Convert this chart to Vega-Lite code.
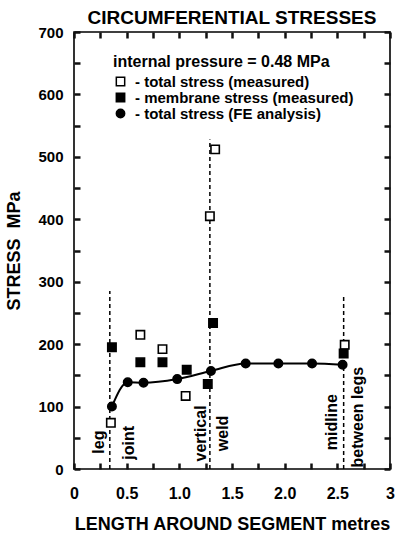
{
  "$schema": "https://vega.github.io/schema/vega-lite/v6.json",
  "autosize": "none",
  "width": 316,
  "height": 437,
  "padding": {"left": 74, "top": 32, "right": 5, "bottom": 72},
  "background": "white",
  "title": {"text": "CIRCUMFERENTIAL STRESSES", "fontSize": 19, "font": "Liberation Sans", "fontWeight": "bold", "color": "black", "offset": -3},
  "config": {
    "view": {"stroke": "black", "strokeWidth": 1.6},
    "font": "Liberation Sans",
    "axis": {"grid": false, "labelFont": "Liberation Sans", "labelFontWeight": "bold", "labelFontSize": 15, "labelColor": "black", "titleFont": "Liberation Sans", "titleFontWeight": "bold", "titleFontSize": 18, "titleColor": "black"}
  },
  "datasets": {
    "pts": [
      {"x": 0.35, "y": 74, "series": "- total stress (measured)"},
      {"x": 0.63, "y": 215, "series": "- total stress (measured)"},
      {"x": 0.84, "y": 192, "series": "- total stress (measured)"},
      {"x": 1.06, "y": 117, "series": "- total stress (measured)"},
      {"x": 1.29, "y": 405, "series": "- total stress (measured)"},
      {"x": 1.34, "y": 512, "series": "- total stress (measured)"},
      {"x": 2.57, "y": 199, "series": "- total stress (measured)"},
      {"x": 0.36, "y": 195, "series": " - membrane stress (measured)"},
      {"x": 0.63, "y": 171, "series": " - membrane stress (measured)"},
      {"x": 0.84, "y": 171, "series": " - membrane stress (measured)"},
      {"x": 1.07, "y": 159, "series": " - membrane stress (measured)"},
      {"x": 1.27, "y": 136, "series": " - membrane stress (measured)"},
      {"x": 1.32, "y": 234, "series": " - membrane stress (measured)"},
      {"x": 2.56, "y": 185, "series": " - membrane stress (measured)"},
      {"x": 0.36, "y": 100, "series": "- total stress (FE analysis)"},
      {"x": 0.51, "y": 139, "series": "- total stress (FE analysis)"},
      {"x": 0.66, "y": 138, "series": "- total stress (FE analysis)"},
      {"x": 0.98, "y": 144, "series": "- total stress (FE analysis)"},
      {"x": 1.30, "y": 157, "series": "- total stress (FE analysis)"},
      {"x": 1.63, "y": 169, "series": "- total stress (FE analysis)"},
      {"x": 1.94, "y": 169, "series": "- total stress (FE analysis)"},
      {"x": 2.26, "y": 169, "series": "- total stress (FE analysis)"},
      {"x": 2.55, "y": 167, "series": "- total stress (FE analysis)"}
    ],
    "rules": [
      {"x": 0.34, "y": 0, "y2": 285},
      {"x": 1.29, "y": 0, "y2": 528},
      {"x": 2.56, "y": 0, "y2": 276}
    ],
    "labels": [
      {"x": 0.24, "y": 43, "label": "leg"},
      {"x": 0.52, "y": 42, "label": "joint"},
      {"x": 1.21, "y": 57, "label": "vertical"},
      {"x": 1.41, "y": 57, "label": "weld"},
      {"x": 2.445, "y": 75, "label": "midline"},
      {"x": 2.70, "y": 83, "label": "between legs"}
    ]
  },
  "resolve": {"axis": {"x": "independent", "y": "independent"}},
  "layer": [
    {
      "data": {"name": "rules"},
      "mark": {"type": "rule", "color": "black", "strokeWidth": 1.5, "strokeDash": [4, 3]},
      "encoding": {
        "x": {"field": "x", "type": "quantitative", "scale": {"domain": [0, 3], "nice": false, "zero": false},
          "axis": {"orient": "bottom", "offset": -6, "tickSize": 6, "tickWidth": 2.5, "tickColor": "#111111", "domain": false, "values": [0, 0.25, 0.5, 0.75, 1, 1.25, 1.5, 1.75, 2, 2.25, 2.5, 2.75, 3], "labelExpr": "datum.value == 0 ? '0' : datum.value == 3 ? '3' : (datum.value * 2) % 1 == 0 ? format(datum.value, '.1f') : ''", "labelPadding": 16, "labelFontSize": 16, "title": "LENGTH AROUND SEGMENT metres", "titlePadding": 14, "labelFlush": false}},
        "y": {"field": "y", "type": "quantitative", "scale": {"domain": [0, 700], "nice": false},
          "axis": {"orient": "left", "offset": -6, "tickSize": 6, "tickWidth": 2.5, "tickColor": "#111111", "domain": false, "values": [0, 50, 100, 150, 200, 250, 300, 350, 400, 450, 500, 550, 600, 650, 700], "labelExpr": "datum.value % 100 == 0 ? datum.label : ''", "labelPadding": 11, "title": "STRESS\u00a0\u00a0MPa", "titlePadding": 14, "labelFlush": false}},
        "y2": {"field": "y2"}
      }
    },
    {
      "data": {"name": "pts"},
      "transform": [{"filter": "datum.series == '- total stress (FE analysis)'"}],
      "mark": {"type": "line", "color": "black", "strokeWidth": 2, "interpolate": "monotone"},
      "encoding": {
        "x": {"field": "x", "type": "quantitative", "axis": {"orient": "top", "offset": -6, "tickSize": 6, "tickWidth": 2.5, "tickColor": "#111111", "domain": false, "values": [0, 0.25, 0.5, 0.75, 1, 1.25, 1.5, 1.75, 2, 2.25, 2.5, 2.75, 3], "labels": false, "title": null}},
        "y": {"field": "y", "type": "quantitative", "axis": {"orient": "right", "offset": -6, "tickSize": 6, "tickWidth": 2.5, "tickColor": "#111111", "domain": false, "values": [0, 50, 100, 150, 200, 250, 300, 350, 400, 450, 500, 550, 600, 650, 700], "labels": false, "title": null}}
      }
    },
    {
      "data": {"name": "pts"},
      "mark": {"type": "point", "filled": true, "stroke": "black", "strokeWidth": 1.6, "opacity": 1, "size": 70},
      "encoding": {
        "x": {"field": "x", "type": "quantitative", "axis": null},
        "y": {"field": "y", "type": "quantitative", "axis": null},
        "shape": {"field": "series", "type": "nominal",
          "scale": {"domain": ["- total stress (measured)", " - membrane stress (measured)", "- total stress (FE analysis)"], "range": ["square", "square", "circle"]},
          "legend": {"title": "internal pressure = 0.48 MPa", "orient": "none", "legendX": 39, "legendY": 22, "titleFontSize": 16, "titleFontWeight": "bold", "titleFont": "Liberation Sans", "titleColor": "black", "titlePadding": 4, "titleLimit": 0, "labelLimit": 0, "labelFontSize": 15, "labelFontWeight": "bold", "labelFont": "Liberation Sans", "labelColor": "black", "labelOffset": 7, "rowPadding": 0, "symbolSize": 70, "padding": 0,
            "encode": {"symbols": {"update": {"stroke": {"value": "black"}, "strokeWidth": {"value": 1.6}, "opacity": {"value": 1}}}}}},
        "fill": {"field": "series", "type": "nominal",
          "scale": {"domain": ["- total stress (measured)", " - membrane stress (measured)", "- total stress (FE analysis)"], "range": ["white", "black", "black"]},
          "legend": {"title": "internal pressure = 0.48 MPa", "orient": "none", "legendX": 39, "legendY": 22, "titleFontSize": 16, "titleFontWeight": "bold", "titleFont": "Liberation Sans", "titleColor": "black", "titlePadding": 4, "titleLimit": 0, "labelLimit": 0, "labelFontSize": 15, "labelFontWeight": "bold", "labelFont": "Liberation Sans", "labelColor": "black", "labelOffset": 7, "rowPadding": 0, "symbolSize": 70, "padding": 0,
            "encode": {"symbols": {"update": {"stroke": {"value": "black"}, "strokeWidth": {"value": 1.6}, "opacity": {"value": 1}}}}}}
      }
    },
    {
      "data": {"name": "labels"},
      "mark": {"type": "text", "angle": 270, "align": "center", "baseline": "middle", "fontSize": 16, "fontWeight": "bold", "font": "Liberation Sans", "color": "black"},
      "encoding": {
        "x": {"field": "x", "type": "quantitative", "axis": null},
        "y": {"field": "y", "type": "quantitative", "axis": null},
        "text": {"field": "label"}
      }
    }
  ]
}
